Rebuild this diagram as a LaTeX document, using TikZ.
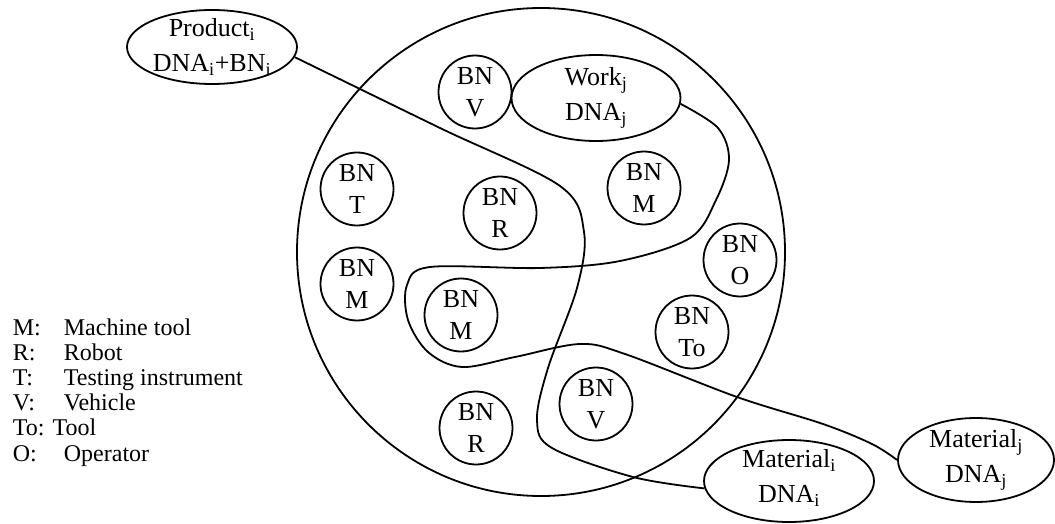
\documentclass[tikz,border=0pt]{standalone}
\usepackage{fontspec}
\setmainfont{Liberation Serif}
\usetikzlibrary{shapes.geometric}
\begin{document}
\begin{tikzpicture}[x=1pt,y=-1pt,
  line width=1.8pt,
  bn/.style={circle, draw, inner sep=0pt, minimum size=73pt, align=center,
    font=\fontsize{26}{32}\selectfont},
  dna/.style={ellipse, draw, inner sep=0pt},
  dnatext/.style={align=center, inner sep=0pt, font=\fontsize{26}{35}\selectfont},
  legend/.style={anchor=base west, inner sep=0pt, font=\fontsize{24}{25}\selectfont},
  link/.style={line width=1.8pt, line join=round}]
\useasboundingbox (0,0) rectangle (1055,524);

% the cell boundary
\node[circle, draw, inner sep=0pt, minimum size=488pt] (cell) at (541,252) {};

% basic nodes inside the cell
\node[bn] (bnv1) at (475,92)  {BN\\V};
\node[bn] (bnt)  at (357,189) {BN\\T};
\node[bn] (bnm1) at (357,284) {BN\\M};
\node[bn] (bnr1) at (500,213) {BN\\R};
\node[bn] (bnm2) at (644,188) {BN\\M};
\node[bn] (bno)  at (740,260) {BN\\O};
\node[bn] (bnto) at (692,332) {BN\\To};
\node[bn] (bnm3) at (461,315) {BN\\M};
\node[bn] (bnv2) at (596,404) {BN\\V};
\node[bn] (bnr2) at (476,428) {BN\\R};

% DNA carriers
\node[dna, minimum width=170pt, minimum height=74pt] (prod) at (212,47) {};
\node[dnatext] (prodtext) at (prod.center) {Product\textsubscript{i}\\DNA\textsubscript{i}+BN\textsubscript{i}};
\node[dna, minimum width=169pt, minimum height=86pt] (work) at (596,98) {};
\node[dnatext] (worktext) at (work.center) {Work\textsubscript{j}\\DNA\textsubscript{j}};
\node[dna, minimum width=170pt, minimum height=82pt] (mati) at (789,481) {};
\node[dnatext] (matitext) at ([yshift=3pt]mati.center) {Material\textsubscript{i}\\DNA\textsubscript{i}};
\node[dna, minimum width=156pt, minimum height=84pt] (matj) at (976,460) {};
\node[dnatext] (matjtext) at (matj.center) {Material\textsubscript{j}\\DNA\textsubscript{j}};

% product route
\draw[link] plot[smooth, tension=0.55] coordinates {
  (prod.-7) (440,128) (560,186) (584,232) (577,288) (548,368)
  (537,420) (552,448) (633,477) (mati.185)};

% work route, looping round the inner machine tool
\draw[link] plot[smooth, tension=0.55] coordinates {
  (work.-4) (718,128) (729,160) (716,200) (690,238) (620,261)
  (540,268) (430,267) (407,285) (408,320) (428,352) (462,367)
  (515,357) (580,344) (625,354) (737,397) (823,424) (872,444) (matj.west)};

% legend
\node[legend] (legm)  at (12,335) {\makebox[51pt][l]{M:}Machine tool};
\node[legend] (legr)  at (12,360) {\makebox[51pt][l]{R:}Robot};
\node[legend] (legt)  at (12,385) {\makebox[51pt][l]{T:}Testing instrument};
\node[legend] (legv)  at (12,410) {\makebox[51pt][l]{V:}Vehicle};
\node[legend] (legto) at (12,435) {To: Tool};
\node[legend] (lego)  at (12,461) {\makebox[51pt][l]{O:}Operator};
\end{tikzpicture}
\end{document}
